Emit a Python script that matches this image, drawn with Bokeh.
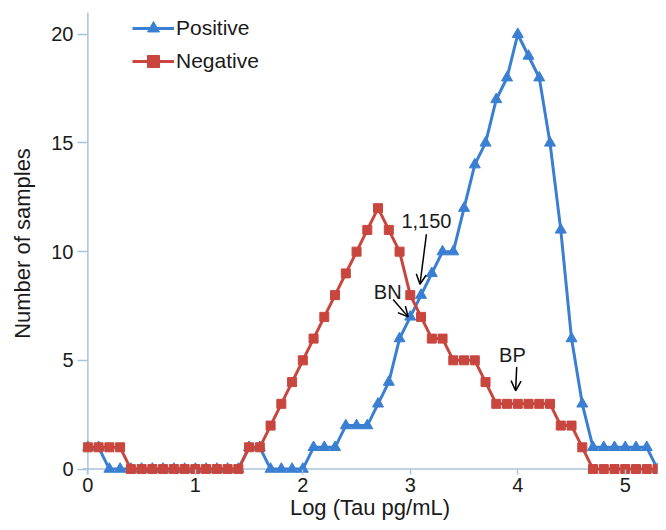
from bokeh.plotting import figure
from bokeh.models import Span, Arrow, OpenHead, Label, Range1d, FixedTicker, Legend
from bokeh.embed import file_html
from bokeh.resources import INLINE

# ---- data ----
log_tau = [0.0, 0.1, 0.2, 0.3, 0.4, 0.5, 0.6, 0.7, 0.8, 0.9,
           1.0, 1.1, 1.2, 1.3, 1.4, 1.5, 1.6, 1.7, 1.8, 1.9,
           2.0, 2.1, 2.2, 2.3, 2.4, 2.5, 2.6, 2.7, 2.8, 2.9,
           3.0, 3.1, 3.2, 3.3, 3.4, 3.5, 3.6, 3.7, 3.8, 3.9,
           4.0, 4.1, 4.2, 4.3, 4.4, 4.5, 4.6, 4.7, 4.8, 4.9,
           5.0, 5.1, 5.2, 5.3]
positive = [1, 1, 0, 0, 0, 0, 0, 0, 0, 0,
            0, 0, 0, 0, 0, 1, 1, 0, 0, 0,
            0, 1, 1, 1, 2, 2, 2, 3, 4, 6,
            7, 8, 9, 10, 10, 12, 14, 15, 17, 18,
            20, 19, 18, 15, 11, 6, 3, 1, 1, 1,
            1, 1, 1, 0]
negative = [1, 1, 1, 1, 0, 0, 0, 0, 0, 0,
            0, 0, 0, 0, 0, 1, 1, 2, 3, 4,
            5, 6, 7, 8, 9, 10, 11, 12, 11, 10,
            8, 7, 6, 6, 5, 5, 5, 4, 3, 3,
            3, 3, 3, 3, 2, 2, 1, 0, 0, 0,
            0, 0, 0, 0]
x_ticks = [0, 1, 2, 3, 4, 5]
y_ticks = [0, 5, 10, 15, 20]
series_names = ["Positive", "Negative"]
x_title = "Log (Tau pg/mL)"
y_title = "Number of samples"

# annotations: text, text position, arrow start, arrow end
ann_text = ["1,150", "BN", "BP"]
ann_pos = [(3.15, 11.4), (2.79, 8.15), (3.95, 5.25)]
ann_from = [(3.15, 10.8), (2.84, 7.8), (3.99, 4.7)]
ann_to = [(3.09, 8.5), (2.98, 7.0), (3.98, 3.6)]

BLUE = "#3a7fd2"
RED = "#c8463e"
AXIS = "#a9c3d9"
FONT = "Liberation Sans"
TXT = "#1a1a1a"

p = figure(width=658, height=522, output_backend="svg", toolbar_location=None,
           x_range=Range1d(-0.05, 5.3), y_range=Range1d(-0.25, 21),
           min_border_left=82, min_border_right=1, min_border_top=12,
           min_border_bottom=40)
p.outline_line_color = None
p.grid.visible = False
p.background_fill_color = "white"

# axis lines at zero
p.add_layout(Span(location=0, dimension="width", line_color=AXIS, line_width=1.5, level="underlay"))
p.add_layout(Span(location=0, dimension="height", line_color=AXIS, line_width=1.5, level="underlay"))

l1 = p.line(log_tau, positive, line_color=BLUE, line_width=3)
s1 = p.scatter(log_tau, positive, marker="triangle", size=11, fill_color=BLUE, line_color=BLUE)
l2 = p.line(log_tau, negative, line_color=RED, line_width=3)
s2 = p.scatter(log_tau, negative, marker="square", size=9, fill_color=RED, line_color=RED)

legend = Legend(items=[(series_names[0], [l1, s1]), (series_names[1], [l2, s2])],
                location=(50, 398))
legend.background_fill_alpha = 0
legend.border_line_color = None
legend.label_text_font = FONT
legend.label_text_font_size = "21px"
legend.label_text_color = TXT
legend.glyph_width = 42
legend.glyph_height = 30
legend.label_height = 30
legend.spacing = 3
legend.padding = 0
legend.margin = 0
legend.label_standoff = 2
p.add_layout(legend)

for ax in (p.xaxis, p.yaxis):
    ax.axis_line_color = None
    ax.major_tick_line_color = AXIS
    ax.major_tick_line_width = 1.5
    ax.minor_tick_line_color = None
    ax.major_label_text_font = FONT
    ax.major_label_text_font_size = "20px"
    ax.major_label_text_color = TXT
    ax.axis_label_text_font = FONT
    ax.axis_label_text_font_size = "22px"
    ax.axis_label_text_font_style = "normal"
    ax.axis_label_text_color = TXT

p.xaxis.ticker = FixedTicker(ticks=x_ticks)
p.yaxis.ticker = FixedTicker(ticks=y_ticks)
p.xaxis.major_tick_in = 5
p.xaxis.major_tick_out = 0
p.xaxis.major_label_standoff = 3
p.xaxis.axis_label = x_title
p.xaxis.axis_label_standoff = 0
p.yaxis.major_tick_in = 5
p.yaxis.major_tick_out = 5
p.yaxis.major_label_standoff = 4
p.yaxis.axis_label = y_title
p.yaxis.axis_label_standoff = 13

for t, (tx, ty), (fx, fy), (ex, ey) in zip(ann_text, ann_pos, ann_from, ann_to):
    p.add_layout(Label(x=tx, y=ty, text=t, text_align="center", text_baseline="middle",
                       text_font=FONT, text_font_size="20px", text_color=TXT))
    p.add_layout(Arrow(end=OpenHead(size=10, line_width=1.5, line_color="black"),
                       x_start=fx, y_start=fy, x_end=ex, y_end=ey,
                       line_width=1.5, line_color="black"))

open("out.html", "w").write(file_html(p, INLINE))
